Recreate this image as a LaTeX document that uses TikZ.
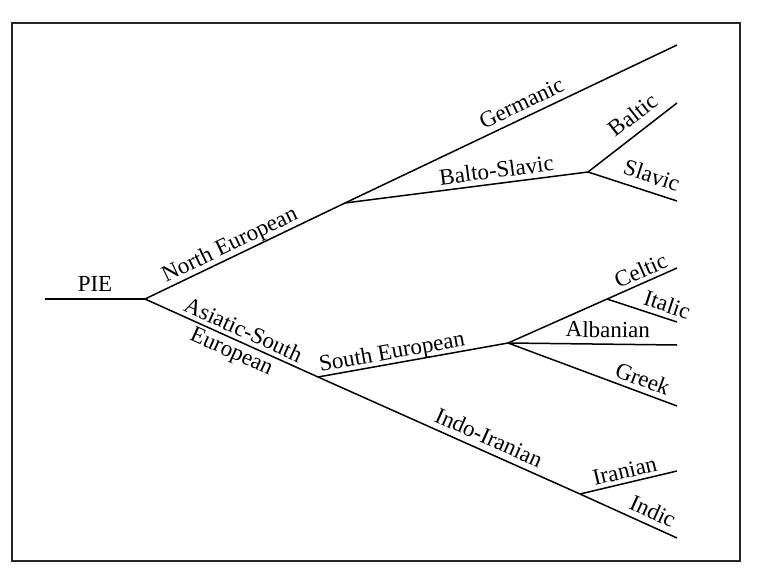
\documentclass[tikz,border=0pt]{standalone}
\usepackage{fontspec}
\setmainfont{Liberation Serif}
\begin{document}
\begin{tikzpicture}[x=1pt,y=-1pt,
  branch/.style={line width=1.5pt, black},
  frame/.style={line width=1.5pt, black!85},
  lab/.style={sloped, anchor=south, text depth=0pt, inner xsep=0pt, inner ysep=#1, font=\fontsize{23}{27}\selectfont},
  lab/.default=5pt,
  labb/.style={sloped, anchor=north, inner xsep=0pt, inner ysep=#1, font=\fontsize{23}{27}\selectfont},
  labb/.default=5pt]
\useasboundingbox (0,0) rectangle (760,575);
\draw[frame] (12,23) rectangle (740,561);
\coordinate (s) at (45,299);
\coordinate (root) at (145,299);
\coordinate (ne) at (345,203);
\coordinate (germ) at (677,45);
\coordinate (bs) at (588,172);
\coordinate (baltic) at (677,103);
\coordinate (slavic) at (677,201);
\coordinate (ase) at (318,377);
\coordinate (ii) at (580,494);
\coordinate (indic) at (677,538);
\coordinate (iranian) at (677,471);
\coordinate (se) at (508,343);
\coordinate (celtic) at (677,268);
\coordinate (it) at (607,299);
\coordinate (italic) at (677,322);
\coordinate (alb) at (677,345);
\coordinate (greek) at (677,406);
\draw[branch] (s) -- (root) node[lab=7pt, pos=0.5] (lPIE) {PIE};
\draw[branch] (root) -- (ne) node[lab=5pt, pos=0.45] (lNE) {North European};
\draw[branch] (ne) -- (germ) node[lab=6pt, pos=0.55] (lGerm) {Germanic};
\draw[branch] (ne) -- (bs) node[lab=5pt, pos=0.63] (lBS) {Balto-Slavic};
\draw[branch] (bs) -- (baltic) node[lab=9pt, pos=0.625] (lBaltic) {Baltic};
\draw[branch] (bs) -- (slavic) node[lab=8pt, pos=0.66] (lSlavic) {Slavic};
\draw[branch] (root) -- (ase) node[lab=4pt, pos=0.54] (lAS) {Asiatic-South}
  node[labb=3pt, pos=0.53] (lEur) {European};
\draw[branch] (ase) -- (se) node[lab=4pt, pos=0.40] (lSE) {South European};
\draw[branch] (se) -- (celtic) node[lab=4pt, pos=0.815] (lCeltic) {Celtic};
\draw[branch] (it) -- (italic) node[lab=5pt, pos=0.8] (lItalic) {Italic};
\draw[branch] (se) -- (alb) node[lab=6pt, pos=0.59] (lAlb) {Albanian};
\draw[branch] (se) -- (greek) node[lab=5pt, pos=0.77] (lGreek) {Greek};
\draw[branch] (ase) -- (ii) node[lab=6pt, pos=0.63] (lII) {Indo-Iranian};
\draw[branch] (ii) -- (iranian) node[lab=4pt, pos=0.49] (lIran) {Iranian};
\draw[branch] (ii) -- (indic) node[lab=6pt, pos=0.69] (lIndic) {Indic};
\end{tikzpicture}
\end{document}
